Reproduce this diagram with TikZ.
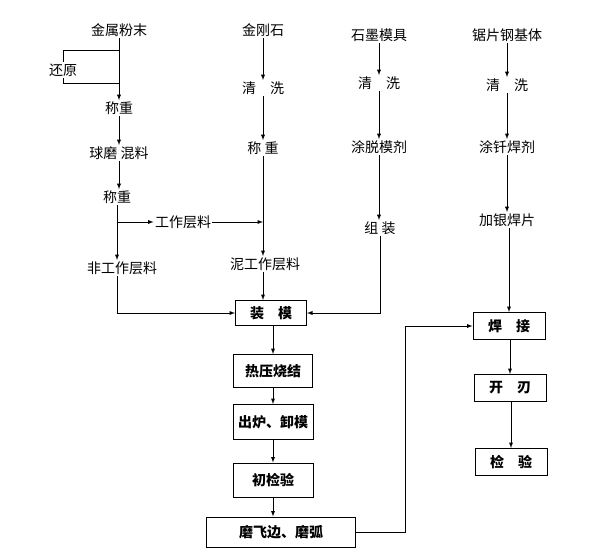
\documentclass[tikz,border=0pt]{standalone}
\usepackage{fontspec}
\setmainfont{Noto Sans CJK SC}
\usetikzlibrary{arrows}

\begin{document}
\begin{tikzpicture}[x=1pt,y=-1pt,>=latex,
  lbl/.style={font=\fontsize{14}{16}\selectfont, inner sep=1pt},
  box/.style={draw, line width=1pt, font=\fontsize{14}{16}\selectfont\bfseries, minimum height=27pt, inner sep=2pt},
  every path/.style={line width=0.9pt}]
\useasboundingbox[fill=white] (0,0) rectangle (600,557);

% column 1: metal powder
\path
(119,30)  node[lbl] (jsfm) {金属粉末}
(63,70)   node[lbl] (hy)   {还原}
(119,108) node[lbl] (cz1)  {称重}
(119,153) node[lbl] (qm)   {球磨\ 混料}
(117,197) node[lbl] (cz2)  {称重}
(122,268) node[lbl] (fgz)  {非工作层料}
(183,222) node[lbl] (gzcl) {工作层料};
\coordinate (b1) at (119,50);
\coordinate (b2) at (119,83);
\coordinate (br) at (117,222);

\draw[->] (jsfm) -- (cz1);
\draw (b1) -| (hy.north);
\draw (hy.south) |- (b2);
\draw[->] (cz1) -- (qm);
\draw[->] (qm) -- (qm.south |- cz2.north);
\draw[->] (cz2) -- (cz2 |- fgz.north);
\draw[->] (br) -- (gzcl);
% end column 1

% column 2: diamond
\path
(263,30)  node[lbl] (jgs) {金刚石}
(263,88)  node[lbl] (qx1) {清\quad 洗}
(263,148) node[lbl] (cz3) {称\ 重}
(265,264) node[lbl] (ngz) {泥工作层料};

\draw[->] (jgs) -- (qx1);
\draw[->] (qx1) -- (cz3);
\draw[->] (cz3) -- (cz3 |- ngz.north);
\draw[->] (gzcl) -- (gzcl -| cz3);
% end column 2

% column 3: graphite mould
\path
(379,35)  node[lbl] (smmj) {石墨模具}
(379,83)  node[lbl] (qx2)  {清\quad 洗}
(379,147) node[lbl] (tmj)  {涂脱模剂}
(380,228) node[lbl] (zz)   {组\ 装};

\draw[->] (smmj) -- (qx2);
\draw[->] (qx2) -- (tmj);
\draw[->] (tmj) -- (tmj |- zz.north);
% end column 3

% column 4: steel blank
\path
(507,35)  node[lbl] (jpgj) {锯片钢基体}
(507,85)  node[lbl] (qx3)  {清\quad 洗}
(507,147) node[lbl] (thj)  {涂钎焊剂}
(507,220) node[lbl] (jyhp) {加银焊片};

\draw[->] (jpgj) -- (qx3);
\draw[->] (qx3) -- (thj);
\draw[->] (thj) -- (jyhp);
% end column 4

% boxes
\path
(271,313) node[box, minimum width=71pt, minimum height=25pt] (zm)   {装\quad 模}
(273,371) node[box, minimum width=79pt, minimum height=33pt] (rysj) {热压烧结}
(273,422) node[box, minimum width=80pt, minimum height=35pt] (cl)   {出炉、卸模}
(273,480) node[box, minimum width=80pt, minimum height=34pt] (cjy)  {初检验}
(281,532) node[box, minimum width=149pt, minimum height=30pt] (mfb) {磨飞边、磨弧}
(509,326) node[box, minimum width=72pt] (hj) {焊\quad 接}
(510,388) node[box, minimum width=72pt] (kr) {开\quad 刃}
(511,462) node[box, minimum width=72pt] (jy) {检\quad 验};
\coordinate (turn) at (405,0);

\draw[->] (ngz.south -| cz3) -- (cz3 |- zm.north);
\draw[->] (fgz.south -| cz2) |- (zm.west);
\draw[->] (zz.south) |- (zm.east);
\draw[->] (zm.south -| rysj) -- (rysj);
\draw[->] (rysj) -- (cl);
\draw[->] (cl) -- (cjy);
\draw[->] (cjy) -- (cjy |- mfb.north);
\draw[->] (mfb.east) -- (mfb.east -| turn) |- (hj.west);
\draw[->] (jyhp.south -| hj) -- (hj);
\draw[->] (hj.south -| kr) -- (kr);
\draw[->] (kr.south -| jy) -- (jy);

\end{tikzpicture}
\end{document}
